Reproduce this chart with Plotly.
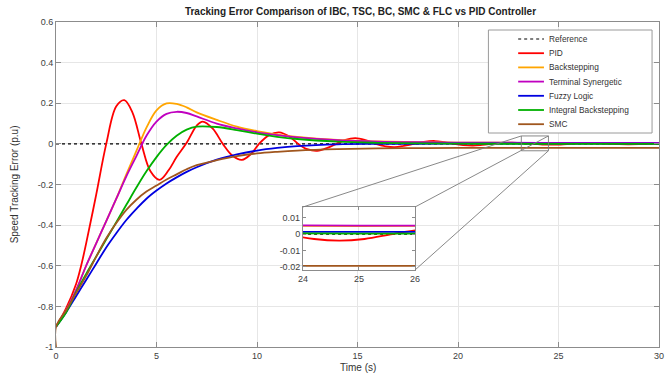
import plotly.graph_objects as go

# ---------------- data ----------------
t_ref = [0, 30]
reference = [0, 0]

t_pid = [0, 0.5, 1.0, 1.25, 1.5, 2.0, 2.5, 3.0, 3.4, 3.8, 4.25, 4.7, 5.15, 5.6, 6.0, 6.5,
         7.0, 7.3, 7.8, 8.3, 8.8, 9.25, 9.7, 10.1, 10.6, 11.1, 11.6, 12.05, 12.5, 13.0,
         13.5, 13.95, 14.4, 14.9, 15.4, 15.9, 16.4, 16.85, 17.3, 17.8, 18.3, 18.85, 19.3,
         19.8, 20.25, 20.75, 21.2, 21.7, 22.2, 22.7, 23.2, 23.7, 24.2, 24.65, 25.1, 25.6,
         26.05, 26.5, 27.0, 27.5, 28.0, 28.5, 29.0, 29.5, 30.0]
pid = [-0.9, -0.81, -0.69, -0.6, -0.49, -0.25, 0.0, 0.185, 0.215, 0.155, 0.0, -0.135, -0.177,
       -0.13, -0.065, 0.005, 0.09, 0.11, 0.075, 0.0, -0.06, -0.079, -0.05, 0.0, 0.043, 0.057,
       0.037, 0.0, -0.026, -0.034, -0.02, 0.0, 0.02, 0.028, 0.018, 0.0, -0.012, -0.016, -0.01,
       0.0, 0.01, 0.014, 0.009, 0.0, -0.006, -0.008, -0.005, 0.0, 0.005, 0.006, 0.004, 0.0,
       -0.003, -0.004, -0.003, 0.0, 0.0025, 0.003, 0.002, 0.0, -0.0015, -0.002, -0.0013, 0.0, 0.001]

t_ctrl = [0, 0.5, 1, 1.5, 2, 2.5, 3, 3.5, 4, 4.5, 5, 5.5, 6, 6.5, 7, 8, 9, 10, 11, 12,
          14, 16, 18, 20, 22, 24, 26, 28, 30]
backstepping = [-0.9, -0.82, -0.72, -0.6, -0.49, -0.38, -0.27, -0.15, -0.035, 0.08, 0.165,
                0.199, 0.197, 0.18, 0.155, 0.118, 0.085, 0.063, 0.046, 0.034, 0.019, 0.012,
                0.008, 0.0065, 0.0055, 0.005, 0.005, 0.005, 0.005]
terminal_synergetic = [-0.9, -0.82, -0.72, -0.6, -0.49, -0.38, -0.27, -0.16, -0.06, 0.04, 0.11,
                       0.148, 0.158, 0.152, 0.135, 0.1, 0.076, 0.057, 0.043, 0.032, 0.018,
                       0.011, 0.008, 0.0065, 0.0057, 0.0053, 0.0052, 0.0052, 0.0052]
fuzzy_logic = [-0.9, -0.83, -0.75, -0.67, -0.59, -0.51, -0.44, -0.375, -0.32, -0.27, -0.23,
               -0.195, -0.165, -0.138, -0.115, -0.078, -0.052, -0.033, -0.02, -0.011, -0.002,
               0.0, 0.0007, 0.001, 0.0012, 0.0013, 0.0013, 0.0013, 0.0013]
integral_backstepping = [-0.9, -0.83, -0.73, -0.64, -0.555, -0.47, -0.385, -0.3, -0.215, -0.135,
                         -0.065, -0.005, 0.04, 0.07, 0.085, 0.083, 0.068, 0.05, 0.035, 0.024,
                         0.011, 0.005, 0.002, 0.001, 0.0006, 0.0004, 0.0003, 0.0003, 0.0003]
t_smc = [0, 0, 0.5, 1, 1.5, 2, 2.5, 3, 3.5, 4, 4.5, 5, 5.5, 6, 6.5, 7, 8, 9, 10, 11, 12,
         14, 16, 18, 20, 22, 24, 26, 28, 30]
smc = [-1.0, -0.9, -0.82, -0.735, -0.65, -0.555, -0.465, -0.39, -0.325, -0.275, -0.235, -0.205,
       -0.175, -0.15, -0.125, -0.105, -0.08, -0.06, -0.047, -0.039, -0.033, -0.026, -0.022,
       -0.021, -0.02, -0.0197, -0.0195, -0.0195, -0.0195, -0.0195]

names = ["Reference", "PID", "Backstepping", "Terminal Synergetic", "Fuzzy Logic",
         "Integral Backstepping", "SMC"]
colors = ["#000000", "#FF0000", "#FFA500", "#C000C0", "#0000E0", "#00B000", "#A0561E"]

x_ticks = [0, 5, 10, 15, 20, 25, 30]
x_ticktext = ["0", "5", "10", "15", "20", "25", "30"]
y_ticks = [0.6, 0.4, 0.2, 0, -0.2, -0.4, -0.6, -0.8, -1]
y_ticktext = ["0.6", "0.4", "0.2", "0", "-0.2", "-0.4", "-0.6", "-0.8", "-1"]
inset_x_ticks = [24, 25, 26]
inset_x_ticktext = ["24", "25", "26"]
inset_y_ticks = [0.01, 0, -0.01, -0.02]
inset_y_ticktext = ["0.01", "0", "-0.01", "-0.02"]

title = "Tracking Error Comparison of IBC, TSC, BC, SMC & FLC vs PID Controller"
x_title = "Time (s)"
y_title = "Speed Tracking Error (p.u)"

# ---------------- layout geometry ----------------
W, H = 670, 376
L, R, T, B = 56, 6, 22, 29
PW, PH = W - L - R, H - T - B
FONT = "Liberation Sans, Arial, Helvetica, sans-serif"
AX = "#8c8c8c"
GRID = "#e6e6e6"
TXT = "#404040"


def px(x):
    return (x - L) / PW


def py(y):
    return (H - B - y) / PH


series = [(t_ref, reference), (t_pid, pid), (t_ctrl, backstepping), (t_ctrl, terminal_synergetic),
          (t_ctrl, fuzzy_logic), (t_ctrl, integral_backstepping), (t_smc, smc)]

fig = go.Figure()
for (tx, vy), name, col in zip(series, names, colors):
    if name == "Reference":
        line = dict(color=col, width=1.2, dash="dot")
    else:
        line = dict(color=col, width=1.8, shape="spline", smoothing=1.0)
    for xa, ya in (("x", "y"), ("x2", "y2")):
        fig.add_trace(go.Scatter(x=tx, y=vy, mode="lines", name=name, line=line,
                                 xaxis=xa, yaxis=ya, showlegend=False, hoverinfo="skip"))

# inset placement (pixels of the reference)
ix0, ix1, iy_top, iy_bot = 305, 418, 207, 270
xd = [px(ix0), px(ix1)]
yd = [py(iy_bot), py(iy_top)]

axis_common = dict(showline=True, linecolor=AX, linewidth=1, mirror="allticks", ticks="inside",
                   tickcolor=AX, zeroline=False, tickfont=dict(size=9, color=TXT, family=FONT))

fig.update_layout(
    width=W, height=H, margin=dict(l=L, r=R, t=T, b=B),
    paper_bgcolor="white", plot_bgcolor="white",
    font=dict(family=FONT, color=TXT),
    title=dict(text=title, x=px(363), xref="paper", xanchor="center", y=1 - 11.5 / H,
               yref="container", yanchor="middle",
               font=dict(size=10, color="#222222", family=FONT, weight="bold")),
    xaxis=dict(range=[0, 30], tickvals=x_ticks, ticktext=x_ticktext, showgrid=True,
               gridcolor=GRID, ticklen=5, domain=[0, 1], **axis_common),
    yaxis=dict(range=[-1, 0.6], tickvals=y_ticks, ticktext=y_ticktext, showgrid=True,
               gridcolor=GRID, ticklen=5, domain=[0, 1], **axis_common),
    xaxis2=dict(range=[24, 26], domain=xd, anchor="y2", tickvals=inset_x_ticks,
                ticktext=inset_x_ticktext, showgrid=True, gridcolor=GRID, ticklen=3,
                **axis_common),
    yaxis2=dict(range=[-0.022, 0.0166], domain=yd, anchor="x2", tickvals=inset_y_ticks,
                ticktext=inset_y_ticktext, showgrid=False, ticklen=3, **axis_common),
)

# zoom box and connector lines (main-axis coordinates)
zx0, zx1, zy0, zy1 = 23.15, 24.5, -0.034, 0.039
cx0, cx1 = 30 * xd[0], 30 * xd[1]
cy_top, cy_bot = -1 + 1.6 * yd[1], -1 + 1.6 * yd[0]
shapes = [
    dict(type="rect", xref="x", yref="y", x0=zx0, x1=zx1, y0=zy0, y1=zy1,
         line=dict(color="#7a7a7a", width=0.9)),
    dict(type="line", xref="x", yref="y", x0=zx0, y0=zy1, x1=cx0, y1=cy_top,
         line=dict(color="#7a7a7a", width=0.9)),
    dict(type="line", xref="x", yref="y", x0=zx1, y0=zy1, x1=cx1, y1=cy_top,
         line=dict(color="#7a7a7a", width=0.9)),
    dict(type="line", xref="x", yref="y", x0=zx1, y0=zy0, x1=cx1, y1=cy_bot,
         line=dict(color="#7a7a7a", width=0.9)),
]

# custom legend (compact, like the reference)
shapes.append(dict(type="rect", xref="paper", yref="paper", x0=px(492), x1=px(657),
                   y0=py(133), y1=py(30), line=dict(color="#9a9a9a", width=1),
                   fillcolor="white", layer="above"))
annotations = []
for i, (name, col) in enumerate(zip(names, colors)):
    yc = 39 + 14.2 * i
    shapes.append(dict(type="line", xref="paper", yref="paper", x0=px(522), x1=px(548),
                       y0=py(yc), y1=py(yc),
                       line=dict(color=col, width=1.2 if i == 0 else 1.8,
                                 dash="dot" if i == 0 else "solid")))
    annotations.append(dict(text=name, xref="paper", yref="paper", x=px(551), y=py(yc),
                            xanchor="left", yanchor="middle", showarrow=False,
                            font=dict(size=8.3, color="#333333", family=FONT)))

annotations.append(dict(text=x_title, xref="paper", yref="paper", x=px(361), y=py(368),
                        xanchor="center", yanchor="middle", showarrow=False,
                        font=dict(size=10, color="#333333", family=FONT)))
annotations.append(dict(text=y_title, xref="paper", yref="paper", x=px(14), y=py(184),
                        xanchor="center", yanchor="middle", showarrow=False, textangle=-90,
                        font=dict(size=10, color="#333333", family=FONT)))

fig.update_layout(shapes=shapes, annotations=annotations)
fig.write_html("out.html", config={"displayModeBar": False},
               post_script="document.body.style.margin='0';document.body.style.padding='0';"
                           "document.body.style.overflow='hidden';")
